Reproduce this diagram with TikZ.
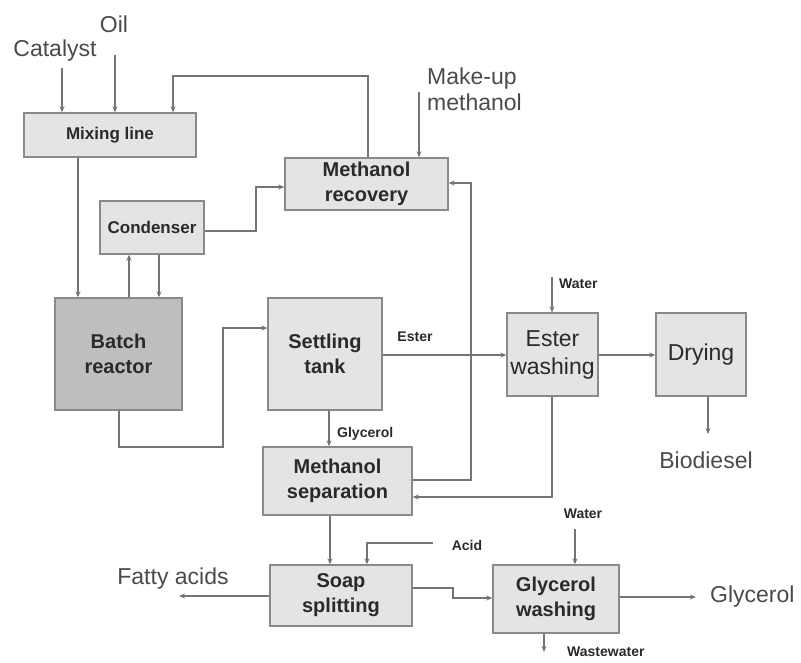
\documentclass[tikz,border=0pt]{standalone}
\usepackage{fontspec}
\setmainfont{Liberation Sans}
\usetikzlibrary{arrows.meta}
\definecolor{boxfill}{HTML}{E4E4E4}
\definecolor{reactfill}{HTML}{BEBEBE}
\definecolor{edge}{HTML}{8A8A8A}
\definecolor{linec}{HTML}{747474}
\definecolor{boxtext}{HTML}{2A2A2A}
\definecolor{lbl}{HTML}{4A4A4A}
\begin{document}
\begin{tikzpicture}[x=1pt,y=-1pt,
  proc/.style={draw=edge,line width=1.4pt,fill=boxfill,inner sep=0pt,align=center,text=boxtext},
  bl/.style={font=\bfseries\fontsize{20}{25}\selectfont},
  bs/.style={font=\bfseries\fontsize{17}{20}\selectfont},
  rg/.style={font=\fontsize{23}{28}\selectfont},
  flow/.style={draw=linec,line width=1.5pt,-{Stealth[length=6pt,width=5pt]}},
  big/.style={font=\fontsize{23}{26}\selectfont,text=lbl,inner sep=0pt,align=left},
  small/.style={font=\bfseries\fontsize{14}{16}\selectfont,text=boxtext,inner sep=0pt}]
\useasboundingbox (0,0) rectangle (801,662);

% boxes
\node[proc,bs,minimum width=172pt,minimum height=44pt] (mix) at (110,135) {Mixing line};
\node[proc,bs,minimum width=104pt,minimum height=53pt] (cond) at (152,227.5) {Condenser};
\node[proc,bl,minimum width=163pt,minimum height=52pt] (mrec) at (366.5,184) {Methanol\\recovery};
\node[proc,bl,fill=reactfill,minimum width=127pt,minimum height=112pt] (batch) at (118.5,354) {Batch\\reactor};
\node[proc,bl,minimum width=114pt,minimum height=112pt] (settle) at (325,354) {Settling\\tank};
\node[proc,rg,minimum width=91pt,minimum height=83pt] (ewash) at (552.5,354.5) {Ester\\washing};
\node[proc,rg,minimum width=90pt,minimum height=83pt] (dry) at (701,354.5) {Drying};
\node[proc,bl,minimum width=149pt,minimum height=68pt] (msep) at (337.5,481) {Methanol\\separation};
\node[proc,bl,minimum width=142pt,minimum height=61pt] (soap) at (341,595.5) {Soap\\splitting};
\node[proc,bl,minimum width=126pt,minimum height=68pt] (gwash) at (556,599) {Glycerol\\washing};

% labels
\node[big] (lcat) at (55,51) {Catalyst};
\node[big] (loil) at (114,24) {Oil};
\node[big,anchor=west] (lmk) at (427,89) {Make-up\\methanol};
\node[big] (lbio) at (706,460) {Biodiesel};
\node[big] (lfat) at (173,579) {Fatty acids};
\node[big,anchor=west] (lgly) at (710,597) {Glycerol};
\node[small] (lester) at (415,337) {Ester};
\node[small,anchor=west] (lw1) at (559,284) {Water};
\node[small,anchor=west] (lglyc) at (337,434) {Glycerol};
\node[small] (lacid) at (467,545) {Acid};
\node[small] (lw2) at (583,514) {Water};
\node[small,anchor=west] (lww) at (567,652) {Wastewater};

% free ends
\coordinate (cat) at (62,68);
\coordinate (oil) at (115,55);
\coordinate (r1) at (368,76);
\coordinate (r2) at (173,76);
\coordinate (mk) at (419,92);
\coordinate (c1) at (256,231);
\coordinate (c2) at (256,187);
\coordinate (b1) at (119,447);
\coordinate (b2) at (223,447);
\coordinate (b3) at (223,328);
\coordinate (w1) at (552,277);
\coordinate (bio) at (708,434);
\coordinate (m1) at (471,480);
\coordinate (m2) at (471,183);
\coordinate (e1) at (552,497);
\coordinate (acid) at (433,543);
\coordinate (a1) at (367,543);
\coordinate (fat) at (179,596);
\coordinate (s1) at (453,588);
\coordinate (s2) at (453,598);
\coordinate (w2) at (575,529);
\coordinate (gly) at (696,597);
\coordinate (ww) at (544,652);

% connectors
\draw[flow] (cat) -- (cat |- mix.north);
\draw[flow] (oil) -- (oil |- mix.north);
\draw[flow] (r1 |- mrec.north) -- (r1) -- (r2) -- (r2 |- mix.north);
\draw[flow] (78,0 |- mix.south) -- (78,0 |- batch.north);
\draw[flow] (129,0 |- batch.north) -- (129,0 |- cond.south);
\draw[flow] (159,0 |- cond.south) -- (159,0 |- batch.north);
\draw[flow] (cond.east |- c1) -- (c1) -- (c2) -- (c2 -| mrec.west);
\draw[flow] (mk) -- (mk |- mrec.north);
\draw[flow] (b1 |- batch.south) -- (b1) -- (b2) -- (b3) -- (b3 -| settle.west);
\draw[flow] (settle.east |- 0,355) -- (ewash.west |- 0,355);
\draw[flow] (w1) -- (w1 |- ewash.north);
\draw[flow] (ewash.east |- 0,355) -- (dry.west |- 0,355);
\draw[flow] (bio |- dry.south) -- (bio);
\draw[flow] (329,0 |- settle.south) -- (329,0 |- msep.north);
\draw[flow] (msep.east |- m1) -- (m1) -- (m2) -- (m2 -| mrec.east);
\draw[flow] (e1 |- ewash.south) -- (e1) -- (e1 -| msep.east);
\draw[flow] (330,0 |- msep.south) -- (330,0 |- soap.north);
\draw[flow] (acid) -- (a1) -- (a1 |- soap.north);
\draw[flow] (soap.west |- fat) -- (fat);
\draw[flow] (soap.east |- s1) -- (s1) -- (s2) -- (s2 -| gwash.west);
\draw[flow] (w2) -- (w2 |- gwash.north);
\draw[flow] (gwash.east |- gly) -- (gly);
\draw[flow] (ww |- gwash.south) -- (ww);
\end{tikzpicture}
\end{document}
